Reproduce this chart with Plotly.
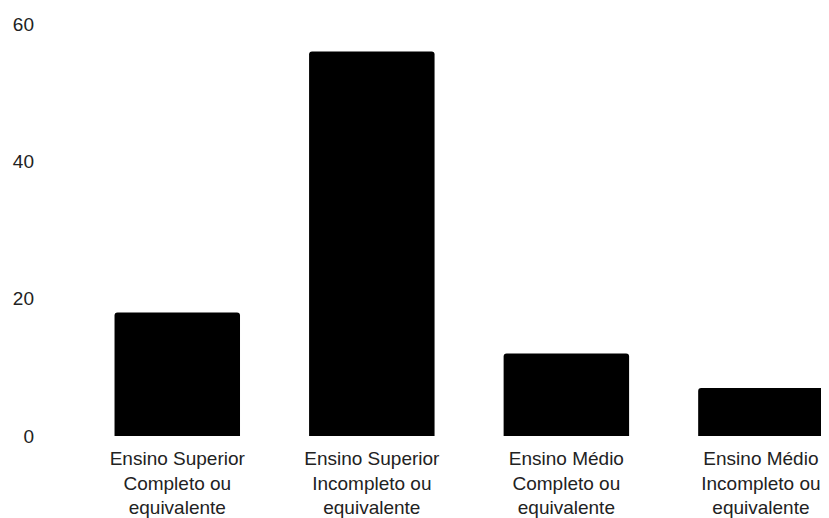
import plotly.graph_objects as go

categories = [
    "Ensino Superior<br>Completo ou<br>equivalente",
    "Ensino Superior<br>Incompleto ou<br>equivalente",
    "Ensino Médio<br>Completo ou<br>equivalente",
    "Ensino Médio<br>Incompleto ou<br>equivalente",
]
values = [18, 56, 12, 7]
y_ticks = [0, 20, 40, 60]

fig = go.Figure(go.Bar(
    x=list(range(len(categories))),
    y=values,
    width=0.645,
    marker=dict(color="#000000", line=dict(width=0), cornerradius=3),
))

# page body has an 8px margin: figure is sized/offset to compensate
fig.update_layout(
    width=821, height=510,
    margin=dict(l=72, r=0, t=16, b=81.5),
    paper_bgcolor="white", plot_bgcolor="white",
    font=dict(family="Liberation Sans, Arial, sans-serif", size=19, color="#222222"),
    showlegend=False,
    xaxis=dict(
        range=[-0.5, 3.35],
        tickmode="array",
        tickvals=list(range(len(categories))),
        ticktext=categories,
        showgrid=False, zeroline=False, showline=False, ticks="",
        ticklabelstandoff=9,
    ),
    yaxis=dict(
        range=[0, 60],
        tickmode="array",
        tickvals=y_ticks,
        showgrid=False, zeroline=False, showline=False, ticks="",
        ticklabelstandoff=45,
    ),
)

fig.write_html("out.html")
